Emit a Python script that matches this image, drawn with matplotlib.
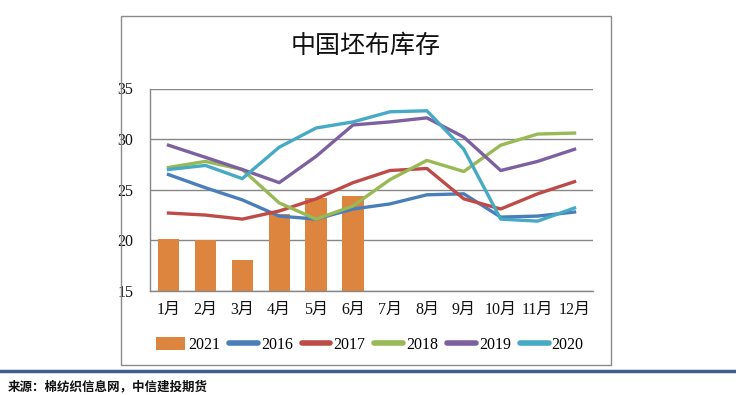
import matplotlib
matplotlib.use("Agg")
import matplotlib.pyplot as plt
from matplotlib.lines import Line2D
from matplotlib.patches import Patch, Rectangle
import numpy as np

# ── data ────────────────────────────────────────────────────────────
months = ["1月", "2月", "3月", "4月", "5月", "6月",
          "7月", "8月", "9月", "10月", "11月", "12月"]
stock_2021 = [20.15, 20.0, 18.1, 22.6, 24.2, 24.4]
stock_2016 = [26.5, 25.2, 24.0, 22.4, 22.1, 23.1, 23.6, 24.5, 24.6, 22.3, 22.4, 22.8]
stock_2017 = [22.7, 22.5, 22.1, 22.9, 24.1, 25.7, 26.9, 27.1, 24.1, 23.1, 24.6, 25.8]
stock_2018 = [27.2, 27.8, 27.0, 23.7, 22.1, 23.4, 26.0, 27.9, 26.8, 29.4, 30.5, 30.6]
stock_2019 = [29.4, 28.2, 27.0, 25.7, 28.3, 31.4, 31.7, 32.1, 30.2, 26.9, 27.8, 29.0]
stock_2020 = [27.0, 27.4, 26.1, 29.2, 31.1, 31.7, 32.7, 32.8, 29.0, 22.1, 21.9, 23.2]

line_series = [
    ("2016", stock_2016, "#4A7EBB"),
    ("2017", stock_2017, "#BE4B48"),
    ("2018", stock_2018, "#98B954"),
    ("2019", stock_2019, "#7D60A0"),
    ("2020", stock_2020, "#46AAC5"),
]
BAR_COLOR = "#DD843F"
GRID_COLOR = "#878787"

W, H = 736, 395
plt.rcParams["font.family"] = ["Liberation Serif", "Noto Sans CJK SC"]

fig = plt.figure(figsize=(W / 100, H / 100), dpi=100)

# outer chart frame
fig.patches.append(Rectangle((121 / W, 1 - 365 / H), (611 - 121) / W, (365 - 15.5) / H,
                             transform=fig.transFigure, fill=False,
                             edgecolor="#8A8A8A", linewidth=1.0))

ax = fig.add_axes([150 / W, 1 - 291 / H, (593 - 150) / W, (291 - 88.5) / H])
x = np.arange(len(months))

ax.bar(x[:len(stock_2021)], stock_2021, width=0.58, color=BAR_COLOR, zorder=2)
for name, vals, col in line_series:
    ax.plot(x, vals, color=col, linewidth=2.4, solid_joinstyle="round", zorder=3)

ax.set_xlim(-0.5, len(months) - 0.5)
ax.set_ylim(15, 35)
ax.set_yticks([15, 20, 25, 30, 35])
ax.set_xticks(x)
ax.set_xticklabels(months)
ax.tick_params(axis="both", length=0, labelsize=11.5, colors="#111111")
ax.tick_params(axis="y", pad=12)
ax.tick_params(axis="x", pad=8)
ax.yaxis.grid(True, color=GRID_COLOR, linewidth=1.0, zorder=0)
ax.set_axisbelow(True)
for side in ("top", "right"):
    ax.spines[side].set_visible(False)
for side in ("left", "bottom"):
    ax.spines[side].set_color(GRID_COLOR)
    ax.spines[side].set_linewidth(1.0)

fig.text(366 / W, 1 - 46 / H, "中国坯布库存", ha="center", va="center",
         fontsize=18, family=["Noto Sans CJK SC"], color="#111111")

handles = [Patch(facecolor=BAR_COLOR, edgecolor="none")]
handles += [Line2D([], [], color=col, linewidth=4, solid_capstyle="round")
            for _, _, col in line_series]
labels = ["2021"] + [name for name, _, _ in line_series]
fig.legend(handles, labels, loc="center", bbox_to_anchor=(370 / W, 1 - 345 / H),
           ncol=6, frameon=False, fontsize=11.5, handlelength=1.8, handleheight=0.8,
           handletextpad=0.2, columnspacing=0.55)

# report footer: separator + source
fig.add_artist(Line2D([0, 1], [1 - 370.5 / H, 1 - 370.5 / H], transform=fig.transFigure,
                      color="#3C5F8D", linewidth=2.5))
fig.text(8 / W, 1 - 387 / H, "来源：棉纺织信息网，中信建投期货", ha="left", va="center",
         fontsize=9, family=["Noto Sans CJK SC"], fontweight="bold", style="italic",
         color="#111111")

fig.savefig("out.png", dpi=100)
